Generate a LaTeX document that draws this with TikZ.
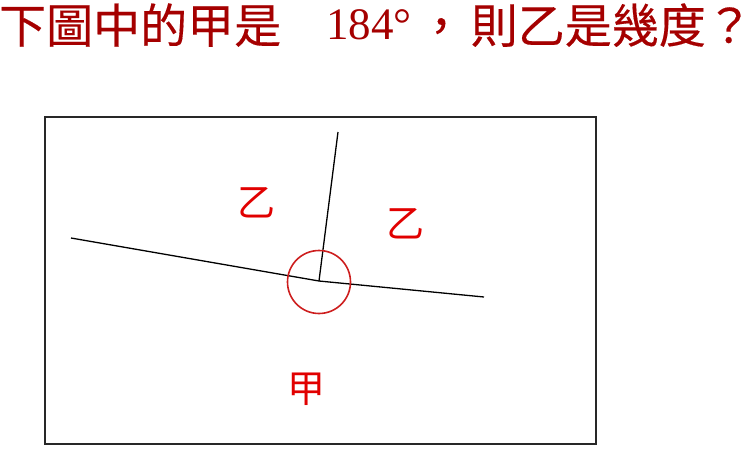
\documentclass[tikz,border=0pt]{standalone}
\usepackage{fontspec}
\setmainfont{Liberation Serif}
\newfontfamily\cjk{Noto Sans CJK TC}
\definecolor{titlered}{RGB}{165,0,0}
\definecolor{labelred}{RGB}{225,0,0}
\definecolor{circred}{RGB}{205,30,30}
\definecolor{boxgray}{RGB}{40,40,40}
\begin{document}
\begin{tikzpicture}[x=1pt,y=-1pt,
  title/.style={inner sep=0pt,text=titlered},
  lbl/.style={inner sep=0pt,text=labelred,font=\cjk\fontsize{38}{38}\selectfont},
  ray/.style={line width=1.3pt,black}]
\useasboundingbox (0,0) rectangle (753,448);
% title
\node[title,anchor=base west,font=\cjk\fontsize{47}{47}\selectfont] (t1) at (-1,43) {\addfontfeature{FakeBold=0.3}下圖中的甲是};
\node[title,anchor=base west,font=\fontsize{45}{45}\selectfont] (t2) at (326,39) {184\textdegree};
\node[title,anchor=base,font=\cjk\fontsize{47}{47}\selectfont] (t3) at (441,43) {\addfontfeature{FakeBold=0.3}，};
\node[title,anchor=base east,font=\cjk\fontsize{47}{47}\selectfont] (t4) at (753,43) {\addfontfeature{FakeBold=0.3}則乙是幾度？};
% frame
\node[draw=boxgray,line width=2pt,inner sep=0pt,minimum width=551,minimum height=327,anchor=north west] (frame) at (44,116) {};
% rays
\coordinate (v) at (319,281);
\coordinate (a) at (71,238);
\coordinate (b) at (484,297);
\coordinate (c) at (338,132);
\draw[ray] (a) -- (v) -- (b);
\draw[ray] (v) -- (c);
\node[draw=circred,line width=1.6pt,circle,minimum size=63,inner sep=0pt] (circ) at (319,282) {};
% labels
\node[lbl] (y1) at (256,203) {乙};
\node[lbl] (y2) at (405,224) {乙};
\node[lbl] (j) at (306,389) {甲};
\end{tikzpicture}
\end{document}
